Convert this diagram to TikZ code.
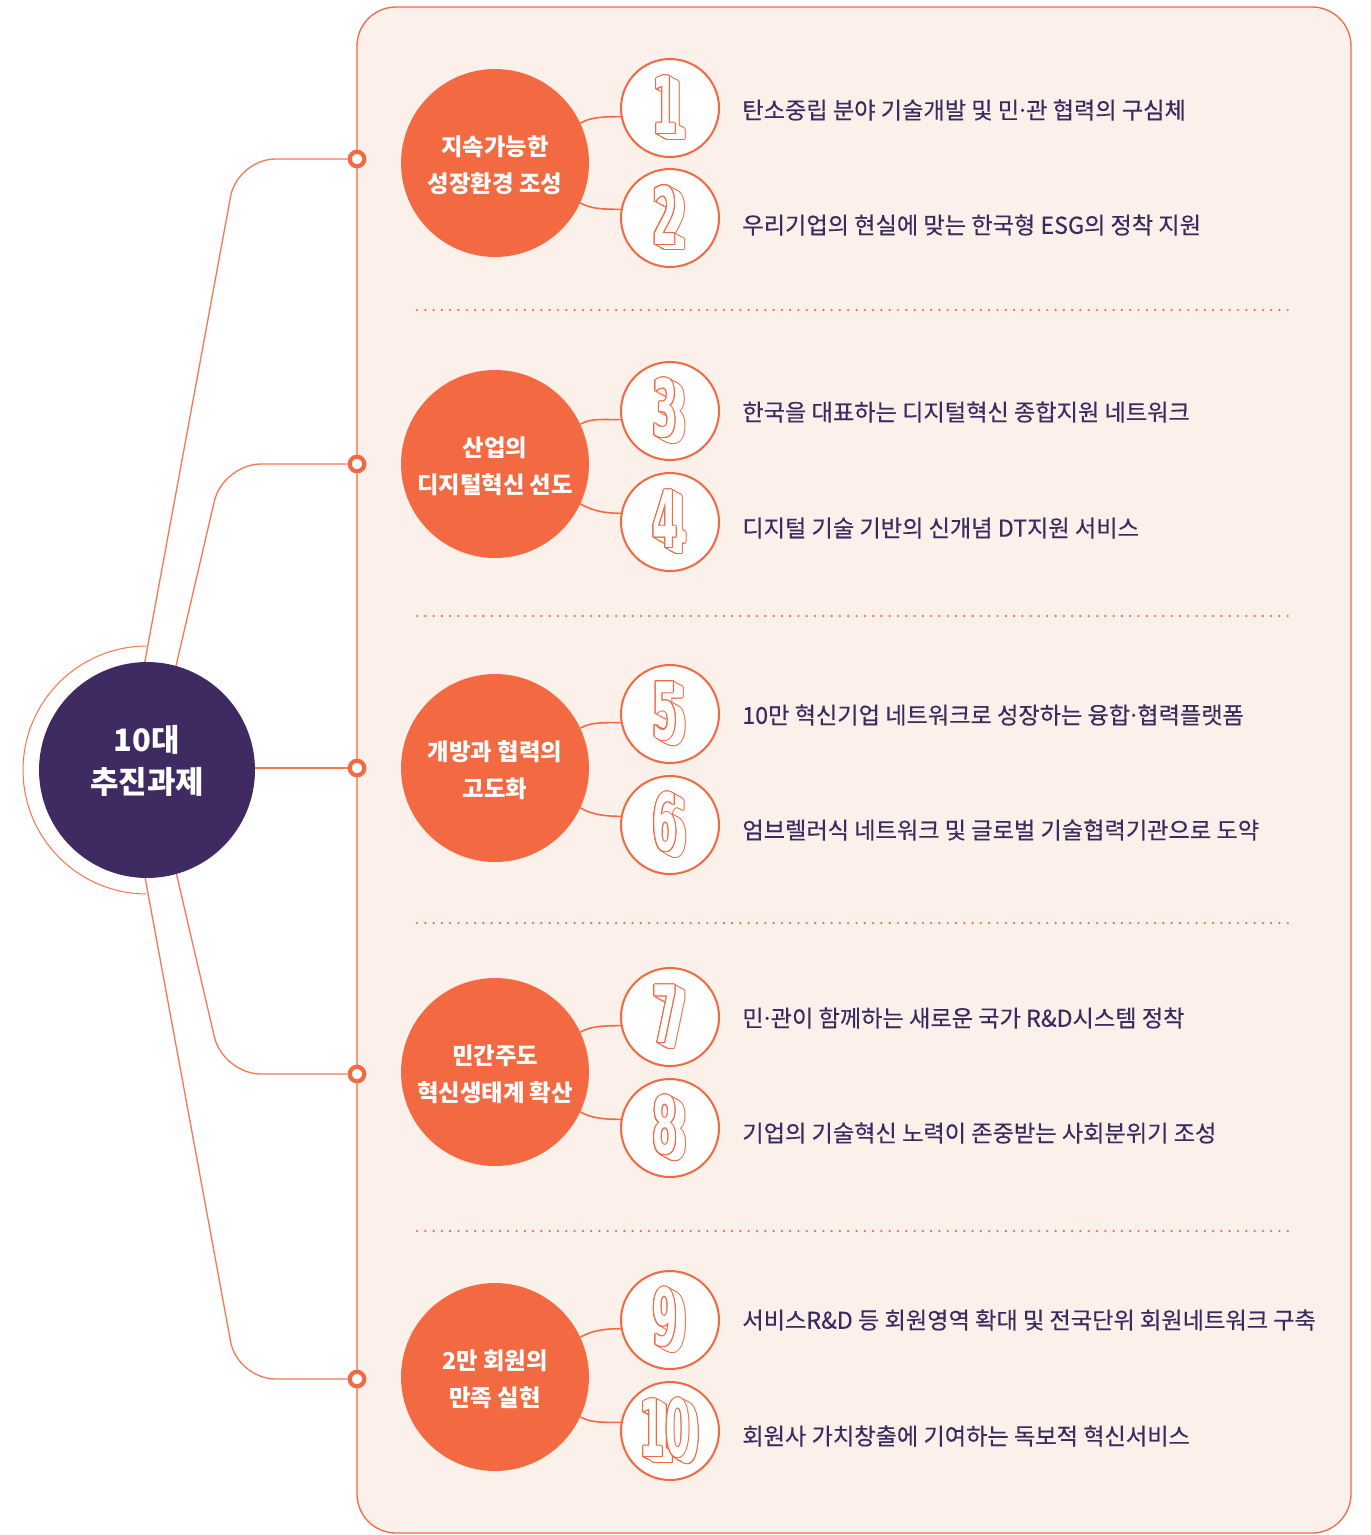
\documentclass[tikz,border=0pt]{standalone}
\usepackage{fontspec}
\setmainfont{Noto Sans CJK KR}
\newfontfamily\itemfont{Noto Sans CJK KR}[FakeBold=0.35]
\newfontfamily\numfont{DejaVu Sans}
\definecolor{orC}{HTML}{F26942}
\definecolor{lineC}{HTML}{F37A55}
\definecolor{panelC}{HTML}{FCF0EA}
\definecolor{purp}{HTML}{3F2B62}
\definecolor{purT}{HTML}{3D2A5E}
\newcommand\mdot{\makebox[0.3em][c]{·}}
\tikzset{
  numtxt/.style={inner sep=0pt, xscale=0.46, transform shape, font=\numfont\bfseries\fontsize{45}{45}\selectfont},
  numc/.style={circle, draw=orC, line width=1.15pt, fill=white, minimum size=1.96cm, inner sep=0pt},
  grp/.style={circle, fill=orC, minimum size=3.76cm, inner sep=0pt},
  grplbl/.style={text=white, align=center, inner sep=0pt, font=\bfseries\fontsize{13.3}{21}\selectfont},
  ctr/.style={circle, fill=purp, minimum size=4.32cm, inner sep=0pt},
  ctrlbl/.style={text=white, align=center, inner sep=0pt, font=\bfseries\fontsize{17.6}{24}\selectfont},
  ringdot/.style={circle, draw=orC, fill=white, line width=2.4pt, minimum size=0.29cm, inner sep=0pt},
  item/.style={anchor=west, inner sep=0pt, text=purT, font=\itemfont\fontsize{13.2}{15}\selectfont},
  branch/.style={draw=lineC, line width=0.75pt, rounded corners=0.76cm},
  conn/.style={draw=orC, line width=0.9pt},
  sep/.style={draw=orC, line width=1.4pt, line cap=round, dash pattern=on 0pt off 4.72pt}
}
\newcommand\bignum[3]{%
  \begin{scope}[shift={(#1,#2)}]
    \foreach \k in {0,...,11}{
      \foreach \a in {0,45,...,315}{
        \node[numtxt, text=orC] at ({0.9*\k+1.0*cos(\a)},{0.5*\k+1.0*sin(\a)}) {#3};
      }
    }
    \foreach \k in {0,...,11}{
      \node[numtxt, text=white] at ({0.9*\k},{0.5*\k}) {#3};
    }
    \foreach \a in {0,45,...,315}{
      \node[numtxt, text=orC] at ({1.0*cos(\a)},{1.0*sin(\a)}) {#3};
    }
    \node[numtxt, text=white] at (0,0) {#3};
  \end{scope}}
\begin{document}
\begin{tikzpicture}[x=0.02cm,y=-0.02cm]
\useasboundingbox[fill=white] (0,0) rectangle (1371,1535);
% panel
\draw[draw=orC, fill=panelC, line width=0.75pt, rounded corners=0.78cm] (357,7) rectangle (1351,1533);
% separators
\foreach \yy in {310,616,923,1231}{
  \draw[sep] (417,\yy) -- (1293,\yy);
}
% dots on panel edge
\node[ringdot] (d1) at (357,159) {};
\node[ringdot] (d2) at (357,464) {};
\node[ringdot] (d3) at (357,768) {};
\node[ringdot] (d4) at (357,1074) {};
\node[ringdot] (d5) at (357,1379) {};
% branch lines
\coordinate (s1) at (137.8,700);
\coordinate (s2) at (168.1,700);
\coordinate (s4) at (168.1,838);
\coordinate (s5) at (137.8,838);
\coordinate (s3) at (200,768);
\draw[branch] (s1) -- (237.5,159) -- (d1.west);
\draw[branch] (s2) -- (223,464) -- (d2.west);
\draw[branch] (s3) -- (d3.west);
\draw[branch] (s4) -- (223,1074) -- (d4.west);
\draw[branch] (s5) -- (237.5,1379) -- (d5.west);
% outer arc
\begin{scope}
  \clip (0,600) rectangle (146,940);
  \node[circle, draw=lineC, line width=0.6pt, minimum size=4.96cm, inner sep=0pt] (ring) at (147,770) {};
\end{scope}
% central circle
\node[ctr] (c) at (147,770) {};
\node[ctrlbl] (cl) at (147,761) {10대\\추진과제};
% group circles
\node[grp] (g1) at (495,163) {};
\node[grp] (g2) at (495,464) {};
\node[grp] (g3) at (495,768) {};
\node[grp] (g4) at (495,1072) {};
\node[grp] (g5) at (495,1377) {};
\node[grplbl] (l1) at (495,165) {지속가능한\\성장환경 조성};
\node[grplbl] (l2) at (495,466) {산업의\\디지털혁신 선도};
\node[grplbl] (l3) at (495,770) {개방과 협력의\\고도화};
\node[grplbl] (l4) at (495,1074) {민간주도\\혁신생태계 확산};
\node[grplbl] (l5) at (495,1379) {2만 회원의\\만족 실현};
% number circles
\node[numc] (n1) at (670,108) {};
\node[numc] (n2) at (670,218) {};
\node[numc] (n3) at (670,411) {};
\node[numc] (n4) at (670,522) {};
\node[numc] (n5) at (670,714) {};
\node[numc] (n6) at (670,825) {};
\node[numc] (n7) at (670,1017) {};
\node[numc] (n8) at (670,1128) {};
\node[numc] (n9) at (670,1320) {};
\node[numc] (n10) at (670,1431) {};
% connectors
\foreach \g/\a/\b in {g1/n1/n2, g2/n3/n4, g3/n5/n6, g4/n7/n8, g5/n9/n10}{
  \draw[conn] (\g.25) .. controls +(10,-6) and +(-18,0) .. (\a.190);
  \draw[conn] (\g.-25) .. controls +(10,6) and +(-18,0) .. (\b.170);
}
% digits
\bignum{665}{105}{1}
\bignum{665}{215}{2}
\bignum{665}{408}{3}
\bignum{665}{519}{4}
\bignum{665}{711}{5}
\bignum{665}{822}{6}
\bignum{665}{1014}{7}
\bignum{665}{1125}{8}
\bignum{665}{1317}{9}
\bignum{665}{1428}{10}
% item texts
\node[item] (t1) at (742,110) {탄소중립 분야 기술개발 및 민\mdot 관 협력의 구심체};
\node[item] (t2) at (742,225) {우리기업의 현실에 맞는 한국형 ESG의 정착 지원};
\node[item] (t3) at (742,412) {한국을 대표하는 디지털혁신 종합지원 네트워크};
\node[item] (t4) at (742,528) {디지털 기술 기반의 신개념 DT지원 서비스};
\node[item] (t5) at (742,715) {10만 혁신기업 네트워크로 성장하는 융합\mdot 협력플랫폼};
\node[item] (t6) at (742,830) {엄브렐러식 네트워크 및 글로벌 기술협력기관으로 도약};
\node[item] (t7) at (742,1018) {민\mdot 관이 함께하는 새로운 국가 R\&D시스템 정착};
\node[item] (t8) at (742,1133) {기업의 기술혁신 노력이 존중받는 사회분위기 조성};
\node[item] (t9) at (742,1320) {서비스R\&D 등 회원영역 확대 및 전국단위 회원네트워크 구축};
\node[item] (t10) at (742,1436) {회원사 가치창출에 기여하는 독보적 혁신서비스};
\end{tikzpicture}
\end{document}
